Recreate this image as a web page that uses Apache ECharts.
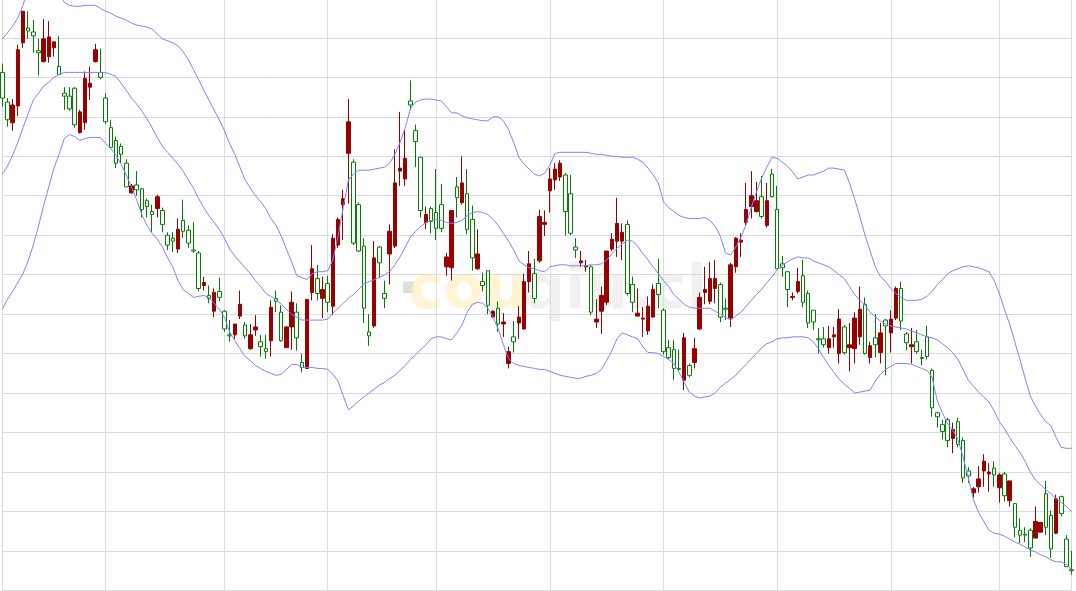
<!DOCTYPE html>
<html><head><meta charset="utf-8">
<script src="https://cdn.jsdelivr.net/npm/echarts@6/dist/echarts.min.js"></script>
<style>html,body{margin:0;padding:0;background:#fff;}#c{width:1076px;height:591px;}</style>
</head><body><div id="c"></div>
<script>
const openV=[499,477,492,548,587,567,562,545,559,561,
556,523,501,488,472,485,519,514,548,520,
475,449,433,442,409,410,406,386,389,381,
399,371,350,354,366,364,352,344,306,312,
296,302,297,265,258,270,290,258,259,267,
247,242,287,293,253,267,292,256,226,295,
326,301,305,292,357,376,397,475,352,344,
286,258,337,332,296,364,413,428,438,492,
455,385,381,374,367,367,338,385,398,413,
366,337,341,309,289,283,270,272,242,252,
277,313,331,296,379,373,417,427,433,384,
362,345,334,329,282,275,299,344,356,372,
363,301,292,281,276,288,305,300,242,236,
225,224,256,218,245,297,305,316,316,277,
285,330,357,355,386,400,395,379,395,399,
326,327,305,298,313,292,271,272,254,249,
255,259,275,241,249,276,285,240,248,249,
261,268,275,306,273,251,249,242,235,237,
185,176,161,152,163,148,114,116,103,113,
131,120,117,117,96,111,64,56,56,43,
70,69,64,42,93,78,24,20];
const closeV=[525,495,474,491,555,570,566,547,536,541,
550,531,504,501,509,464,474,510,536,525,
499,469,456,450,433,403,411,407,395,384,
387,385,360,357,346,375,365,345,342,309,
299,283,303,283,259,259,278,269,245,264,
252,245,253,296,282,246,267,282,231,225,
302,316,296,311,288,350,391,443,434,391,
349,262,268,348,301,341,349,425,417,496,
466,439,373,387,383,391,328,327,409,393,
402,376,326,313,324,277,286,270,230,257,
271,265,313,321,334,371,405,416,419,421,
402,348,332,328,328,272,283,292,346,354,
354,371,310,278,275,263,277,311,284,246,
244,225,213,228,231,265,302,293,306,310,
286,276,328,353,373,389,384,399,370,422,
386,331,323,297,303,319,301,284,255,255,
246,257,240,267,246,245,257,290,236,256,
241,274,261,276,306,260,247,252,236,257,
223,180,168,173,154,171,152,121,99,105,
121,118,124,104,118,91,88,61,57,61,
53,59,98,76,58,95,52,21];
const lowV=[490,470,466,481,550,559,545,522,535,535,
541,523,487,486,469,463,467,497,535,518,
473,448,428,433,409,402,400,378,378,363,
378,363,345,343,342,357,347,342,303,304,
291,277,293,262,252,255,275,255,244,258,
237,235,237,282,252,246,244,243,221,225,
294,294,276,282,279,347,355,392,350,343,
271,248,266,317,286,310,347,410,410,487,
429,378,366,362,355,363,319,314,378,391,
361,324,325,303,280,276,262,257,225,241,
255,264,302,291,332,359,383,406,415,360,
360,337,328,323,279,266,260,289,344,338,
335,299,282,278,257,259,277,286,239,234,
213,223,203,216,225,264,290,290,291,272,
274,267,322,338,370,377,383,377,368,398,
326,318,287,294,301,287,266,264,240,246,
240,246,230,239,222,230,249,239,230,236,
230,218,241,274,264,243,230,240,228,234,
176,165,153,145,139,145,109,109,94,99,
105,100,105,89,90,85,54,48,49,34,
53,59,56,33,57,75,24,16];
const highV=[534,499,498,553,587,587,578,559,579,577,
556,562,510,510,510,487,526,531,554,549,
504,477,460,453,437,412,425,408,397,391,
401,388,363,363,377,396,370,373,344,318,
309,306,317,284,274,270,304,272,270,279,
259,259,294,304,289,268,303,291,240,295,
350,330,318,319,361,378,406,498,437,393,
357,280,354,349,314,371,447,485,467,517,
472,439,389,389,427,412,342,385,419,440,
427,390,366,322,324,284,293,281,247,273,
288,321,344,336,386,385,428,433,436,423,
421,357,344,335,330,295,308,344,362,398,
372,375,318,306,287,298,310,336,286,254,
254,244,261,230,256,302,328,333,335,312,
296,332,358,362,413,425,414,420,413,427,
410,339,323,302,327,335,304,284,266,267,
268,267,285,269,271,282,308,297,252,280,
271,275,284,308,313,262,266,264,244,268,
225,181,173,175,170,175,155,125,105,126,
138,129,131,119,120,111,88,73,64,63,
85,69,111,81,97,96,56,40];
const upperV=[559,565,572,580,593,610,623,631,633,629,
620,606,596,593,592,592,593,593,593,590,
587,585,582,580,578,575,573,572,571,569,
564,559,557,555,552,546,538,528,518,507,
497,487,477,466,453,442,429,416,408,400,
394,387,377,370,359,346,333,319,317,315,
321,323,323,324,335,359,388,416,422,426,
426,426,427,428,429,433,442,454,469,488,
495,497,498,498,497,496,490,484,484,481,
479,478,477,476,476,480,480,476,467,454,
439,432,427,422,420,423,431,443,444,444,
444,444,444,444,443,442,442,441,440,440,
439,439,439,437,434,428,421,413,394,388,
384,380,378,377,377,377,378,375,369,359,
342,340,348,358,371,388,404,418,429,439,
438,434,430,424,417,419,421,421,423,425,
428,428,427,426,413,397,379,360,344,328,
318,313,306,301,297,294,294,294,295,298,
303,310,315,321,324,326,328,329,328,327,
325,323,314,301,285,270,252,234,215,197,
187,178,171,167,155,145,144,144];
const middleV=[422,430,441,454,469,483,497,504,511,515,
520,523,525,525,525,525,525,525,525,525,
525,523,521,514,507,499,493,486,478,469,
459,450,444,438,432,425,416,408,397,388,
380,373,366,357,346,339,333,327,321,314,
308,301,298,295,290,285,280,277,274,274,
274,274,274,275,281,286,291,296,300,305,
311,313,315,317,320,323,330,338,348,358,
364,369,373,375,376,375,373,372,373,375,
380,383,384,383,381,376,370,362,354,345,
334,330,327,326,324,323,328,329,330,330,
329,329,329,329,330,330,331,335,341,347,
351,355,354,349,341,335,328,321,314,308,
300,295,290,287,286,286,286,286,283,280,
277,274,278,282,288,294,300,305,312,318,
325,329,333,336,338,337,337,334,332,330,
328,324,320,316,308,300,294,289,282,277,
273,270,268,267,266,265,263,261,259,257,
256,254,250,246,241,234,224,213,207,201,
196,191,182,171,164,155,147,140,131,120,
112,107,102,98,93,89,85,80];
const lowerV=[285,295,303,312,321,334,350,369,390,409,
428,442,458,462,460,456,458,459,459,459,
453,448,441,432,421,409,396,381,370,362,
356,348,337,328,314,305,301,297,298,299,
297,291,285,277,262,253,245,237,233,228,
225,222,220,218,219,224,229,229,226,226,
226,225,225,224,219,212,197,183,187,192,
196,200,204,208,211,215,218,223,228,234,
239,244,249,255,257,257,255,254,261,269,
282,290,292,291,286,277,265,249,235,230,
228,227,226,225,224,224,222,220,218,217,
216,215,215,217,218,220,224,233,243,255,
261,259,257,255,247,241,241,240,237,234,
230,221,211,201,197,195,196,197,200,206,
210,214,218,224,229,235,240,246,250,252,
255,256,256,257,257,257,256,252,245,236,
228,221,214,209,205,200,201,202,203,212,
219,224,227,230,230,230,229,227,225,223,
216,192,180,169,162,153,135,114,92,79,
70,61,58,57,55,52,49,47,44,41,
39,36,34,31,29,29,26,21];
const monthStarts=[0,20,43,63,84,106,128,150,172,193,207];
const categories=openV.map((_,i)=>'D'+(i+1));
const candles=openV.map((o,i)=>[o,closeV[i],lowV[i],highV[i]]);
const chart=echarts.init(document.getElementById('c'),null,{renderer:'canvas'});
const band=(d)=>({type:'line',data:d,symbol:'none',silent:true,z:3,lineStyle:{color:'#8080ff',width:1},itemStyle:{color:'#8080ff'}});
chart.setOption({
  animation:false,
  graphic:[
    {type:'text',left:397,top:262,z:-10,style:{text:'·',fill:'rgba(200,200,200,0.6)',font:'bold 60px "DejaVu Sans"'}},
    {type:'text',left:408,top:262,z:-10,style:{text:'cou',fill:'rgba(255,236,170,0.5)',font:'bold 60px "DejaVu Sans"'}},
    {type:'text',left:522,top:262,z:-10,style:{text:'qiu.cl',fill:'rgba(215,215,215,0.35)',font:'bold 60px "DejaVu Sans"'}}
  ],
  grid:{left:2.3,right:4.4,top:0,bottom:0.6},
  xAxis:{type:'category',data:categories,boundaryGap:false,
    axisLine:{show:false},axisTick:{show:false},axisLabel:{show:false},
    splitLine:{show:true,interval:(i)=>monthStarts.includes(i),lineStyle:{color:'#dcdcdc',width:1}}},
  yAxis:{type:'value',min:0,max:598.4,interval:40,scale:false,
    axisLine:{show:false},axisTick:{show:false},axisLabel:{show:false},
    splitLine:{show:true,showMaxLine:false,lineStyle:{color:'#dcdcdc',width:1}}},
  series:[
    {type:'candlestick',data:candles,barWidth:4,z:2,
      itemStyle:{color:'#ffffff',color0:'#990000',borderColor:'#008000',borderColor0:'#990000',borderWidth:1}},
    band(upperV),band(middleV),band(lowerV)
  ]
});
</script></body></html>
